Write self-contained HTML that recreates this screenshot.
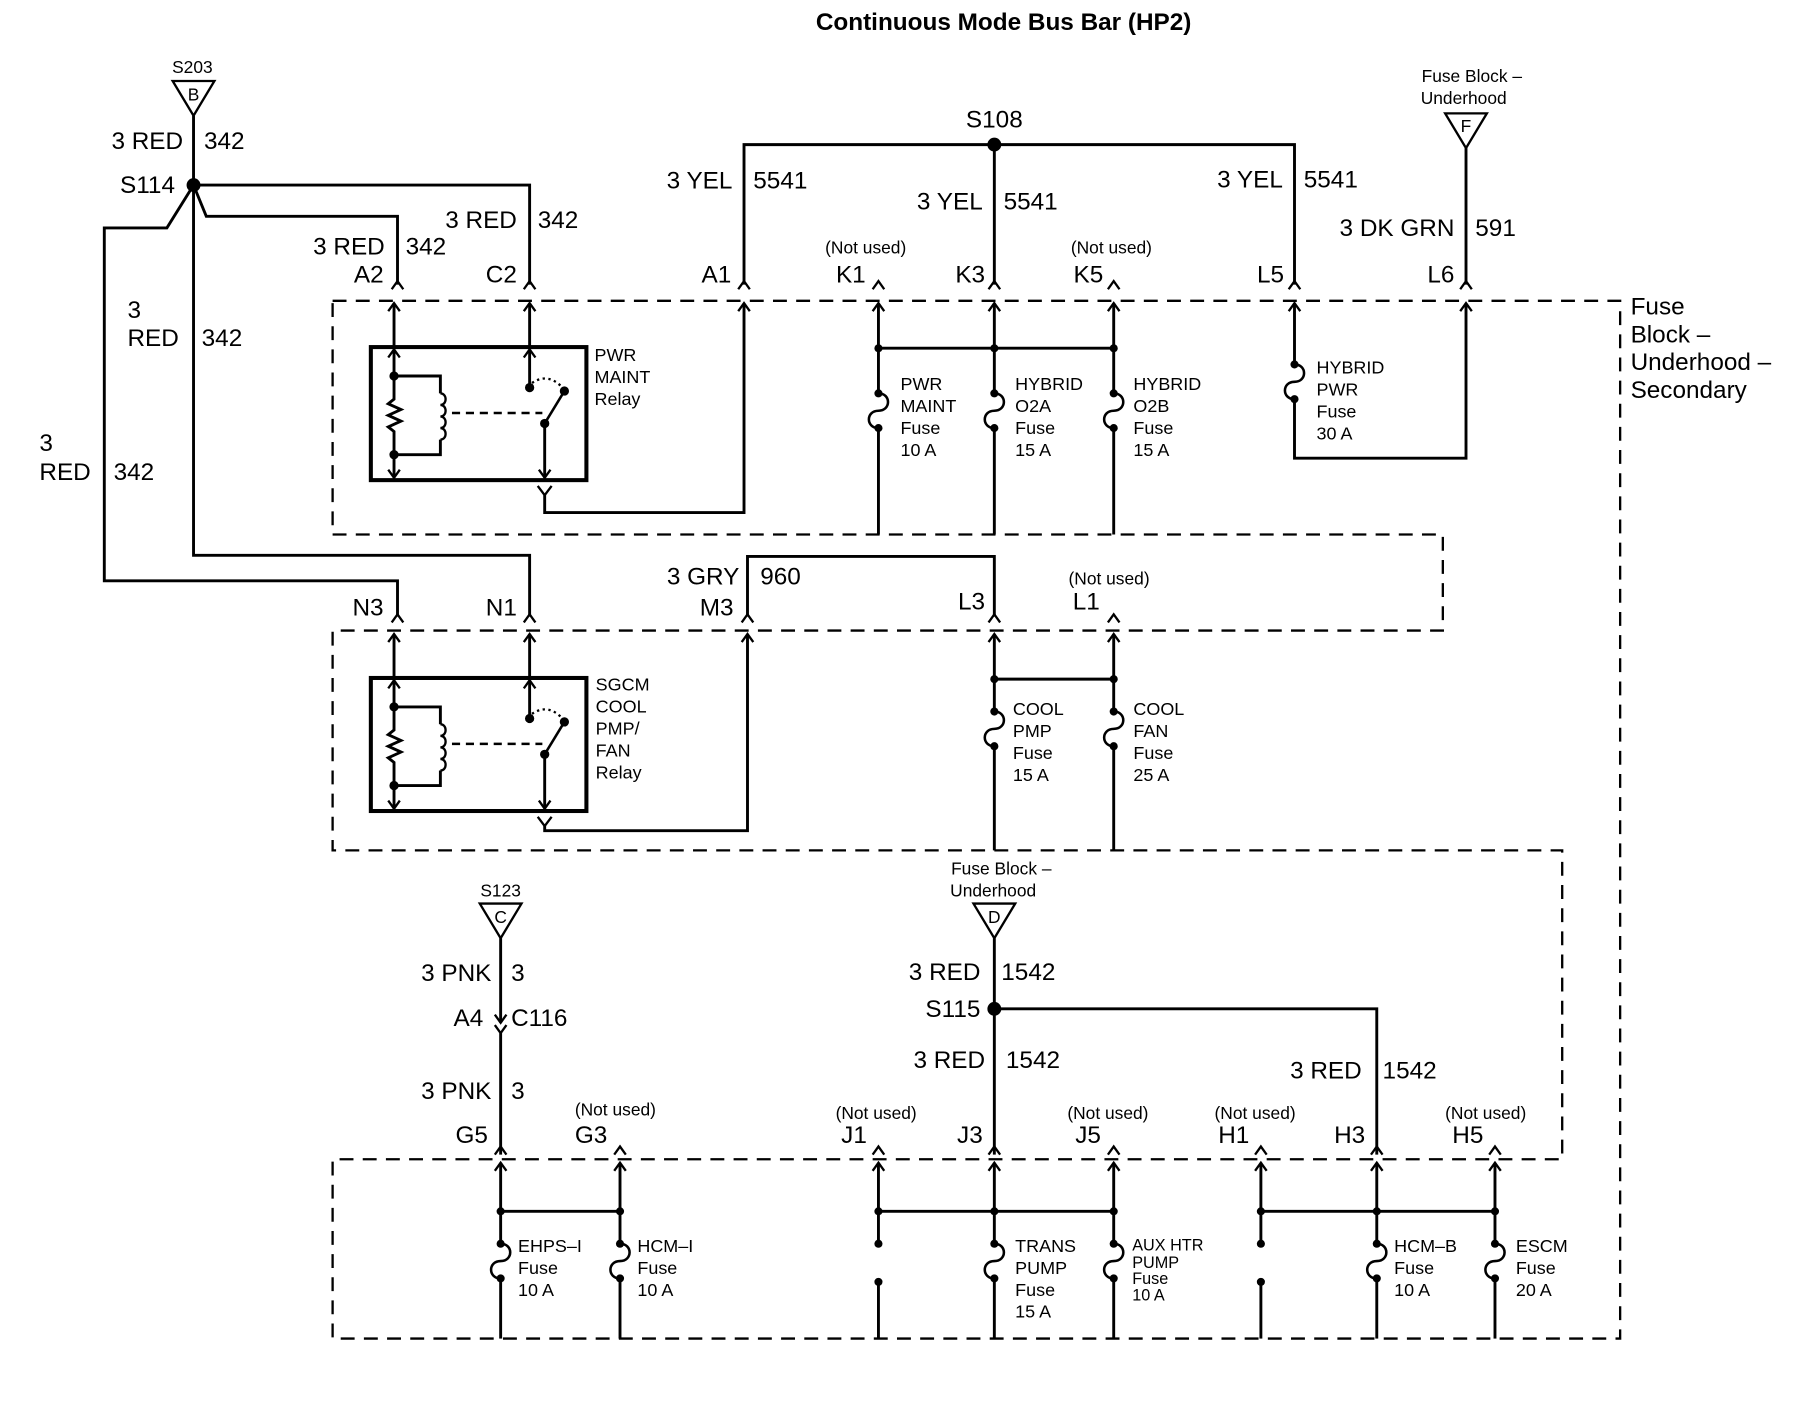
<!DOCTYPE html>
<html><head><meta charset="utf-8"><style>
html,body{margin:0;padding:0;background:#fff;}
svg{display:block;}
text{font-family:"Liberation Sans",sans-serif;fill:#000;}
.w{font-size:21px;}
.s{font-size:15px;}
.m{font-size:15.5px;}
</style></head><body>
<svg width="1816" height="1408" viewBox="0 0 1567 1217" preserveAspectRatio="none" xmlns="http://www.w3.org/2000/svg">
<defs>
<path id="up" d="M-5,7 L0,0 L5,7" fill="none" stroke="#000" stroke-width="2"/>
<path id="dn" d="M-5,-7 L0,0 L5,-7" fill="none" stroke="#000" stroke-width="2"/>
<g id="fuse">
<path d="M0,0 C11,0 11,15 0,15 C-11,15 -11,30 0,30" fill="none" stroke="#000" stroke-width="2.2"/>
<circle cx="0" cy="0" r="3.5"/><circle cx="0" cy="30" r="3.5"/>
</g>
<g id="relay" stroke="#000" fill="none">
<line x1="340" y1="262" x2="340" y2="300" stroke-width="2.5"/>
<line x1="457" y1="262" x2="457" y2="300" stroke-width="2.5"/>
<use href="#up" x="340" y="262"/><use href="#up" x="457" y="262"/>
<use href="#up" x="340" y="302"/><use href="#up" x="457" y="302"/>
<rect x="320" y="300" width="186" height="115" stroke-width="3.5"/>
<polyline points="340,302 340,345 335,349 346,354 335,359 346,364 335,369 340,373 340,413" stroke-width="2.5"/>
<use href="#dn" x="340" y="413"/>
<polyline points="340,325 380,325 380,340" stroke-width="2.5"/>
<path d="M380,340 c6,0 6,10 0,10 c6,0 6,10 0,10 c6,0 6,10 0,10 c6,0 6,10 0,10" stroke-width="2"/>
<polyline points="380,380 380,393 340,393" stroke-width="2.5"/>
<circle cx="340" cy="325" r="3.5" fill="#000"/><circle cx="340" cy="393" r="3.5" fill="#000"/>
<line x1="390" y1="357" x2="468" y2="357" stroke-width="2.2" stroke-dasharray="7,5"/>
<line x1="457" y1="302" x2="457" y2="335" stroke-width="2.5"/>
<circle cx="457" cy="335" r="3.5" fill="#000"/>
<path d="M459,331 Q474,321 487,337" stroke-width="2" stroke-dasharray="2,3"/>
<line x1="470" y1="366" x2="487" y2="338" stroke-width="2.2"/>
<circle cx="487" cy="338" r="3.5" fill="#000"/><circle cx="470" cy="366" r="3.5" fill="#000"/>
<line x1="470" y1="366" x2="470" y2="413" stroke-width="2.5"/>
<use href="#dn" x="470" y="413"/>
<polyline points="464,420 470,428 476,420" stroke-width="2"/>
</g>
</defs>

<text x="866" y="26" text-anchor="middle" style="font-size:21px;font-weight:bold">Continuous Mode Bus Bar (HP2)</text>

<g fill="none" stroke="#000" stroke-width="2" stroke-dasharray="12,8">
<polyline points="287,260 1398,260 1398,1157 287,1157 287,1002 1348,1002 1348,735 287,735 287,545 1245,545 1245,462 287,462 287,260"/>
</g>

<text x="166" y="63" text-anchor="middle" class="s">S203</text>
<polygon points="149,70 185,70 167,100" fill="none" stroke="#000" stroke-width="2"/>
<text x="167" y="87" text-anchor="middle" class="s">B</text>
<g fill="none" stroke="#000" stroke-width="2.5">
<line x1="167" y1="100" x2="167" y2="160"/>
<polyline points="167,160 457,160 457,246"/>
<polyline points="167,160 178,187 343,187 343,246"/>
<polyline points="167,160 167,480 457,480 457,533"/>
<polyline points="167,160 144,197 90,197 90,502 343,502 343,533"/>
</g>
<circle cx="167" cy="160" r="6"/>
<text x="158" y="129" text-anchor="end" class="w">3 RED</text><text x="176" y="129" class="w">342</text>
<text x="151" y="167" text-anchor="end" class="w">S114</text>
<text x="332" y="220" text-anchor="end" class="w">3 RED</text><text x="350" y="220" class="w">342</text>
<text x="446" y="197" text-anchor="end" class="w">3 RED</text><text x="464" y="197" class="w">342</text>
<text x="110" y="275" class="w">3</text><text x="110" y="299" class="w">RED</text><text x="174" y="299" class="w">342</text>
<text x="34" y="390" class="w">3</text><text x="34" y="415" class="w">RED</text><text x="98" y="415" class="w">342</text>

<g>
<use href="#up" x="343" y="243"/><use href="#up" x="457" y="243"/><use href="#up" x="642" y="243"/>
<use href="#up" x="758" y="243"/><use href="#up" x="858" y="243"/><use href="#up" x="961" y="243"/>
<use href="#up" x="1117" y="243"/><use href="#up" x="1265" y="243"/>
<use href="#up" x="642" y="262"/><use href="#up" x="758" y="262"/><use href="#up" x="858" y="262"/>
<use href="#up" x="961" y="262"/><use href="#up" x="1117" y="262"/><use href="#up" x="1265" y="262"/>
</g>
<text x="331" y="244" text-anchor="end" class="w">A2</text>
<text x="446" y="244" text-anchor="end" class="w">C2</text>
<text x="631" y="244" text-anchor="end" class="w">A1</text>
<text x="747" y="244" text-anchor="end" class="w">K1</text>
<text x="850" y="244" text-anchor="end" class="w">K3</text>
<text x="952" y="244" text-anchor="end" class="w">K5</text>
<text x="1108" y="244" text-anchor="end" class="w">L5</text>
<text x="1255" y="244" text-anchor="end" class="w">L6</text>
<text x="747" y="219" text-anchor="middle" class="s">(Not used)</text>
<text x="959" y="219" text-anchor="middle" class="s">(Not used)</text>

<g fill="none" stroke="#000" stroke-width="2.5">
<polyline points="642,246 642,125 1117,125 1117,246"/>
<line x1="858" y1="125" x2="858" y2="246"/>
<line x1="1265" y1="128" x2="1265" y2="246"/>
</g>
<circle cx="858" cy="125" r="6"/>
<text x="858" y="110" text-anchor="middle" class="w">S108</text>
<text x="632" y="163" text-anchor="end" class="w">3 YEL</text><text x="650" y="163" class="w">5541</text>
<text x="848" y="181" text-anchor="end" class="w">3 YEL</text><text x="866" y="181" class="w">5541</text>
<text x="1107" y="162" text-anchor="end" class="w">3 YEL</text><text x="1125" y="162" class="w">5541</text>
<text x="1270" y="71" text-anchor="middle" class="s">Fuse Block –</text>
<text x="1263" y="90" text-anchor="middle" class="s">Underhood</text>
<polygon points="1247,98 1283,98 1265,128" fill="none" stroke="#000" stroke-width="2"/>
<text x="1265" y="114" text-anchor="middle" class="s">F</text>
<text x="1255" y="204" text-anchor="end" class="w">3 DK GRN</text><text x="1273" y="204" class="w">591</text>
<text x="1407" y="272" class="w">Fuse</text>
<text x="1407" y="296" class="w">Block –</text>
<text x="1407" y="320" class="w">Underhood –</text>
<text x="1407" y="344" class="w">Secondary</text>

<use href="#relay"/>
<polyline points="470,428 470,443 642,443 642,262" fill="none" stroke="#000" stroke-width="2.5"/>
<text x="513" y="312" class="m">PWR</text><text x="513" y="331" class="m">MAINT</text><text x="513" y="350" class="m">Relay</text>

<g fill="none" stroke="#000" stroke-width="2.5">
<line x1="758" y1="262" x2="758" y2="340"/><line x1="758" y1="370" x2="758" y2="462"/>
<line x1="858" y1="262" x2="858" y2="340"/><line x1="858" y1="370" x2="858" y2="462"/>
<line x1="961" y1="262" x2="961" y2="340"/><line x1="961" y1="370" x2="961" y2="462"/>
<line x1="758" y1="301" x2="961" y2="301"/>
<polyline points="1117,262 1117,315"/><polyline points="1117,345 1117,396 1265,396 1265,262"/>
</g>
<circle cx="758" cy="301" r="3.5"/><circle cx="858" cy="301" r="3.5"/><circle cx="961" cy="301" r="3.5"/>
<use href="#fuse" x="758" y="340"/><use href="#fuse" x="858" y="340"/><use href="#fuse" x="961" y="340"/><use href="#fuse" x="1117" y="315"/>
<text x="777" y="337" class="m">PWR</text><text x="777" y="356" class="m">MAINT</text><text x="777" y="375" class="m">Fuse</text><text x="777" y="394" class="m">10 A</text>
<text x="876" y="337" class="m">HYBRID</text><text x="876" y="356" class="m">O2A</text><text x="876" y="375" class="m">Fuse</text><text x="876" y="394" class="m">15 A</text>
<text x="978" y="337" class="m">HYBRID</text><text x="978" y="356" class="m">O2B</text><text x="978" y="375" class="m">Fuse</text><text x="978" y="394" class="m">15 A</text>
<text x="1136" y="323" class="m">HYBRID</text><text x="1136" y="342" class="m">PWR</text><text x="1136" y="361" class="m">Fuse</text><text x="1136" y="380" class="m">30 A</text>

<g>
<use href="#up" x="343" y="531"/><use href="#up" x="457" y="531"/><use href="#up" x="645" y="531"/>
<use href="#up" x="858" y="531"/><use href="#up" x="961" y="531"/>
<use href="#up" x="858" y="548"/><use href="#up" x="961" y="548"/><use href="#up" x="645" y="548"/>
</g>
<text x="331" y="532" text-anchor="end" class="w">N3</text>
<text x="446" y="532" text-anchor="end" class="w">N1</text>
<text x="633" y="532" text-anchor="end" class="w">M3</text>
<text x="850" y="527" text-anchor="end" class="w">L3</text>
<text x="949" y="527" text-anchor="end" class="w">L1</text>
<text x="957" y="505" text-anchor="middle" class="s">(Not used)</text>
<polyline points="645,533 645,481 858,481 858,533" fill="none" stroke="#000" stroke-width="2.5"/>
<text x="638" y="505" text-anchor="end" class="w">3 GRY</text><text x="656" y="505" class="w">960</text>

<g transform="translate(0,286)"><use href="#relay"/></g>
<polyline points="470,714 470,718 645,718 645,548" fill="none" stroke="#000" stroke-width="2.5"/>
<text x="514" y="597" class="m">SGCM</text><text x="514" y="616" class="m">COOL</text><text x="514" y="635" class="m">PMP/</text><text x="514" y="654" class="m">FAN</text><text x="514" y="673" class="m">Relay</text>

<g fill="none" stroke="#000" stroke-width="2.5">
<line x1="858" y1="548" x2="858" y2="615"/><line x1="858" y1="645" x2="858" y2="735"/>
<line x1="961" y1="548" x2="961" y2="615"/><line x1="961" y1="645" x2="961" y2="735"/>
<line x1="858" y1="587" x2="961" y2="587"/>
</g>
<circle cx="858" cy="587" r="3.5"/><circle cx="961" cy="587" r="3.5"/>
<use href="#fuse" x="858" y="615"/><use href="#fuse" x="961" y="615"/>
<text x="874" y="618" class="m">COOL</text><text x="874" y="637" class="m">PMP</text><text x="874" y="656" class="m">Fuse</text><text x="874" y="675" class="m">15 A</text>
<text x="978" y="618" class="m">COOL</text><text x="978" y="637" class="m">FAN</text><text x="978" y="656" class="m">Fuse</text><text x="978" y="675" class="m">25 A</text>

<text x="432" y="775" text-anchor="middle" class="s">S123</text>
<polygon points="414,781 450,781 432,811" fill="none" stroke="#000" stroke-width="2"/>
<text x="432" y="798" text-anchor="middle" class="s">C</text>
<g fill="none" stroke="#000" stroke-width="2.5">
<line x1="432" y1="811" x2="432" y2="884"/>
<line x1="432" y1="893" x2="432" y2="998"/>
</g>
<use href="#dn" x="432" y="884"/>
<polyline points="427,886 432,893 437,886" fill="none" stroke="#000" stroke-width="2"/>
<text x="424" y="848" text-anchor="end" class="w">3 PNK</text><text x="441" y="848" class="w">3</text>
<text x="417" y="887" text-anchor="end" class="w">A4</text><text x="441" y="887" class="w">C116</text>
<text x="424" y="950" text-anchor="end" class="w">3 PNK</text><text x="441" y="950" class="w">3</text>

<text x="864" y="756" text-anchor="middle" class="s">Fuse Block –</text>
<text x="857" y="775" text-anchor="middle" class="s">Underhood</text>
<polygon points="840,781 876,781 858,811" fill="none" stroke="#000" stroke-width="2"/>
<text x="858" y="798" text-anchor="middle" class="s">D</text>
<g fill="none" stroke="#000" stroke-width="2.5">
<line x1="858" y1="811" x2="858" y2="998"/>
<polyline points="858,872 1188,872 1188,998"/>
</g>
<circle cx="858" cy="872" r="6"/>
<text x="846" y="847" text-anchor="end" class="w">3 RED</text><text x="864" y="847" class="w">1542</text>
<text x="846" y="879" text-anchor="end" class="w">S115</text>
<text x="850" y="923" text-anchor="end" class="w">3 RED</text><text x="868" y="923" class="w">1542</text>
<text x="1175" y="932" text-anchor="end" class="w">3 RED</text><text x="1193" y="932" class="w">1542</text>

<g>
<use href="#up" x="432" y="991"/><use href="#up" x="535" y="991"/><use href="#up" x="758" y="991"/>
<use href="#up" x="858" y="991"/><use href="#up" x="961" y="991"/><use href="#up" x="1088" y="991"/>
<use href="#up" x="1188" y="991"/><use href="#up" x="1290" y="991"/>
<use href="#up" x="432" y="1005"/><use href="#up" x="535" y="1005"/><use href="#up" x="758" y="1005"/>
<use href="#up" x="858" y="1005"/><use href="#up" x="961" y="1005"/><use href="#up" x="1088" y="1005"/>
<use href="#up" x="1188" y="1005"/><use href="#up" x="1290" y="1005"/>
</g>
<text x="421" y="988" text-anchor="end" class="w">G5</text>
<text x="524" y="988" text-anchor="end" class="w">G3</text>
<text x="748" y="988" text-anchor="end" class="w">J1</text>
<text x="848" y="988" text-anchor="end" class="w">J3</text>
<text x="950" y="988" text-anchor="end" class="w">J5</text>
<text x="1078" y="988" text-anchor="end" class="w">H1</text>
<text x="1178" y="988" text-anchor="end" class="w">H3</text>
<text x="1280" y="988" text-anchor="end" class="w">H5</text>
<text x="531" y="964" text-anchor="middle" class="s">(Not used)</text>
<text x="756" y="967" text-anchor="middle" class="s">(Not used)</text>
<text x="956" y="967" text-anchor="middle" class="s">(Not used)</text>
<text x="1083" y="967" text-anchor="middle" class="s">(Not used)</text>
<text x="1282" y="967" text-anchor="middle" class="s">(Not used)</text>

<g fill="none" stroke="#000" stroke-width="2.5">
<line x1="432" y1="1047" x2="535" y2="1047"/>
<line x1="758" y1="1047" x2="961" y2="1047"/>
<line x1="1088" y1="1047" x2="1290" y2="1047"/>
<line x1="432" y1="1005" x2="432" y2="1075"/><line x1="432" y1="1105" x2="432" y2="1157"/>
<line x1="535" y1="1005" x2="535" y2="1075"/><line x1="535" y1="1105" x2="535" y2="1157"/>
<line x1="858" y1="1005" x2="858" y2="1075"/><line x1="858" y1="1105" x2="858" y2="1157"/>
<line x1="961" y1="1005" x2="961" y2="1075"/><line x1="961" y1="1105" x2="961" y2="1157"/>
<line x1="1188" y1="1005" x2="1188" y2="1075"/><line x1="1188" y1="1105" x2="1188" y2="1157"/>
<line x1="1290" y1="1005" x2="1290" y2="1075"/><line x1="1290" y1="1105" x2="1290" y2="1157"/>
<line x1="758" y1="1005" x2="758" y2="1075"/><line x1="758" y1="1108" x2="758" y2="1157"/>
<line x1="1088" y1="1005" x2="1088" y2="1075"/><line x1="1088" y1="1108" x2="1088" y2="1157"/>
</g>
<g>
<circle cx="432" cy="1047" r="3.5"/><circle cx="535" cy="1047" r="3.5"/>
<circle cx="758" cy="1047" r="3.5"/><circle cx="858" cy="1047" r="3.5"/><circle cx="961" cy="1047" r="3.5"/>
<circle cx="1088" cy="1047" r="3.5"/><circle cx="1188" cy="1047" r="3.5"/><circle cx="1290" cy="1047" r="3.5"/>
<circle cx="758" cy="1075" r="3.5"/><circle cx="758" cy="1108" r="3.5"/>
<circle cx="1088" cy="1075" r="3.5"/><circle cx="1088" cy="1108" r="3.5"/>
</g>
<use href="#fuse" x="432" y="1075"/><use href="#fuse" x="535" y="1075"/>
<use href="#fuse" x="858" y="1075"/><use href="#fuse" x="961" y="1075"/>
<use href="#fuse" x="1188" y="1075"/><use href="#fuse" x="1290" y="1075"/>
<text x="447" y="1082" class="m">EHPS–I</text><text x="447" y="1101" class="m">Fuse</text><text x="447" y="1120" class="m">10 A</text>
<text x="550" y="1082" class="m">HCM–I</text><text x="550" y="1101" class="m">Fuse</text><text x="550" y="1120" class="m">10 A</text>
<text x="876" y="1082" class="m">TRANS</text><text x="876" y="1101" class="m">PUMP</text><text x="876" y="1120" class="m">Fuse</text><text x="876" y="1139" class="m">15 A</text>
<text x="977" y="1081" style="font-size:14px">AUX HTR</text><text x="977" y="1096" style="font-size:14px">PUMP</text><text x="977" y="1110" style="font-size:14px">Fuse</text><text x="977" y="1124" style="font-size:14px">10 A</text>
<text x="1203" y="1082" class="m">HCM–B</text><text x="1203" y="1101" class="m">Fuse</text><text x="1203" y="1120" class="m">10 A</text>
<text x="1308" y="1082" class="m">ESCM</text><text x="1308" y="1101" class="m">Fuse</text><text x="1308" y="1120" class="m">20 A</text>
</svg>
</body></html>
